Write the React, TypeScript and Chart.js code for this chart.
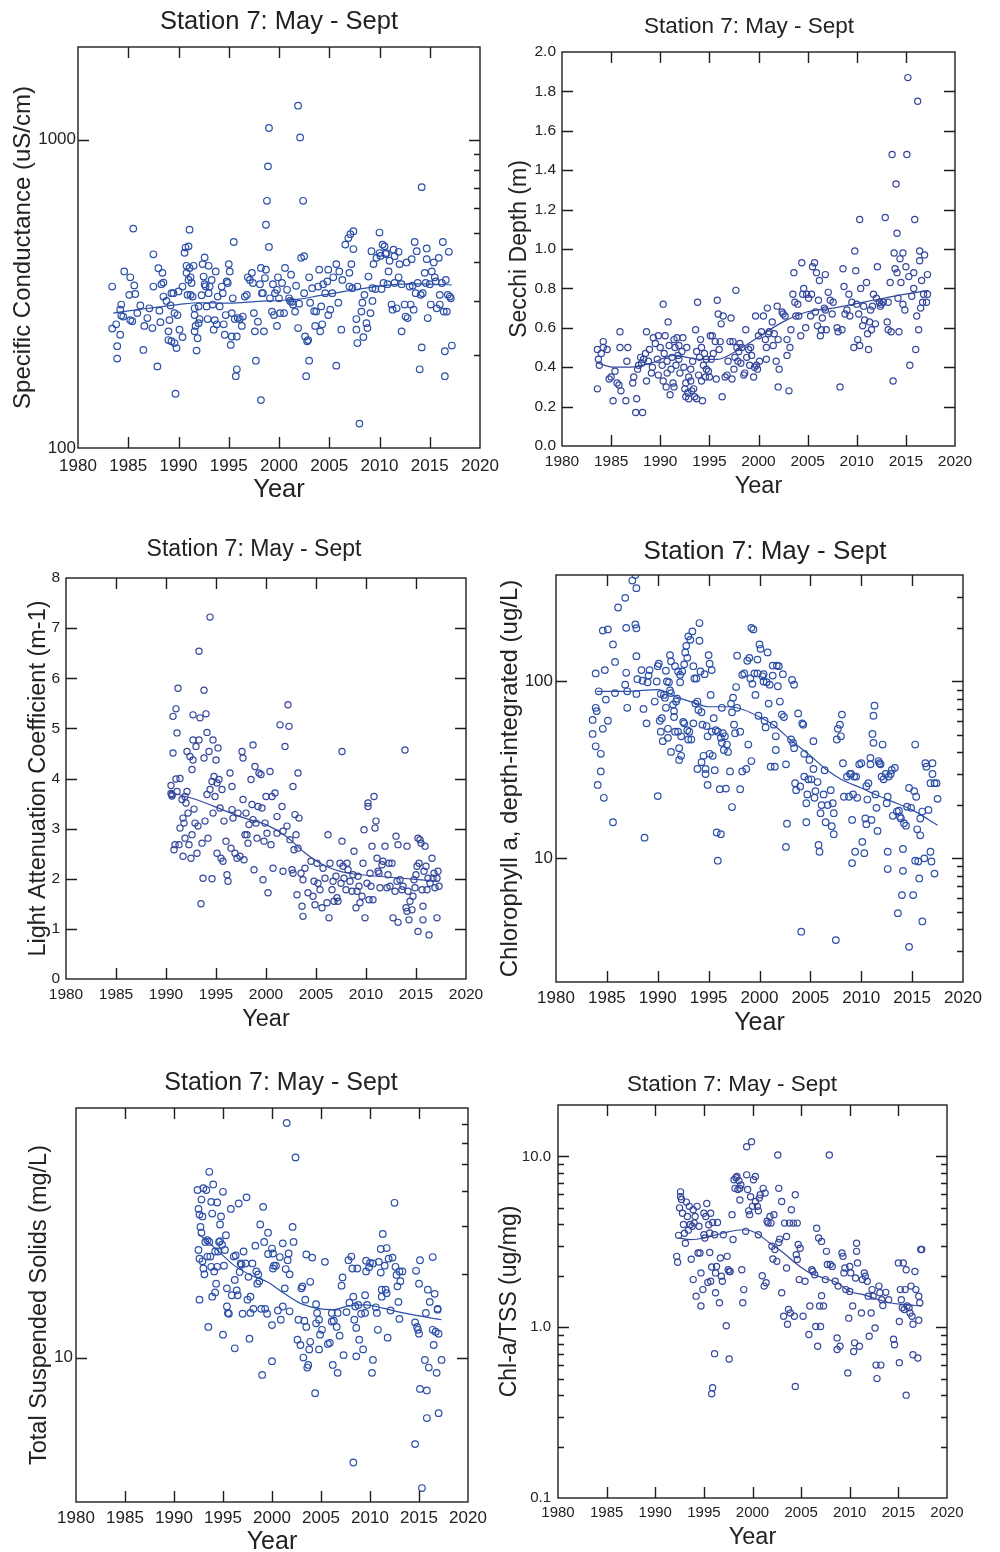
import { useEffect, useRef } from "react";
import { Chart, registerables } from "chart.js";
Chart.register(...registerables);

const FONT = "'Liberation Sans', Arial, Helvetica, sans-serif";
const TITLE_TEXT = "Station 7: May - Sept";
const xTickYears = [1980, 1985, 1990, 1995, 2000, 2005, 2010, 2015, 2020];

// ---------- Panel 1: Specific Conductance ----------
const condPoints: [number, number][] = [
  [1983.4,334],[1983.4,244],[1983.8,252],[1983.9,214],[1983.9,195],[1984.2,281],[1984.3,292],[1984.2,233],[1984.3,269],[1984.6,374],[1984.5,267],[1985.1,314],[1985.2,358],[1985.2,260],[1985.4,258],[1985.6,337],[1985.5,515],[1985.7,316],[1985.9,274],[1986.2,290],[1986.5,208],[1986.6,249],[1986.9,264],[1987.1,284],[1987.4,245],[1987.5,425],[1987.5,334],[1987.9,184],[1988.0,383],[1988.1,279],[1988.2,256],[1988.3,340],[1988.4,370],[1988.5,310],[1988.5,344],[1988.8,300],[1989.0,239],[1989.0,224],[1989.1,260],[1989.2,290],[1989.3,222],[1989.3,318],[1989.5,318],[1989.6,274],[1989.6,219],[1989.7,150],[1989.8,211],[1989.9,270],[1990.1,242],[1990.0,322],[1990.4,334],[1990.4,229],[1990.6,430],[1990.7,447],[1990.8,390],[1991.0,451],[1991.1,511],[1990.8,370],[1991.0,351],[1991.1,384],[1991.2,358],[1991.3,343],[1991.5,390],[1990.9,314],[1991.2,314],[1991.4,310],[1991.6,284],[1991.6,270],[1991.7,249],[1991.6,239],[1991.8,207],[1991.9,227],[1992.0,254],[1992.0,288],[1992.1,262],[1992.3,313],[1992.4,395],[1992.5,360],[1992.6,340],[1992.6,415],[1992.7,335],[1992.8,288],[1992.9,262],[1993.0,390],[1993.0,318],[1993.1,334],[1993.3,351],[1993.4,292],[1993.5,242],[1993.6,260],[1993.7,374],[1993.8,252],[1993.9,310],[1994.1,288],[1994.3,334],[1994.4,318],[1994.5,252],[1994.6,233],[1994.7,270],[1994.8,347],[1994.9,343],[1995.0,395],[1995.1,374],[1995.2,216],[1995.3,230],[1995.3,274],[1995.4,306],[1995.5,466],[1995.6,262],[1995.7,171],[1995.8,230],[1995.8,180],[1995.9,264],[1996.1,262],[1996.3,249],[1996.4,267],[1996.6,310],[1996.8,314],[1996.9,358],[1997.1,351],[1997.3,370],[1997.4,343],[1997.5,274],[1997.6,239],[1997.7,192],[1997.9,257],[1998.1,340],[1998.2,384],[1998.2,143],[1998.3,318],[1998.4,318],[1998.5,239],[1998.6,356],[1998.7,379],[1998.7,530],[1998.8,634],[1998.9,820],[1999.0,449],[1999.0,1092],[1999.1,306],[1999.3,277],[1999.4,340],[1999.5,270],[1999.6,318],[1999.8,249],[1999.8,326],[1999.9,358],[2000.0,306],[2000.1,274],[2000.3,343],[2000.5,274],[2000.6,384],[2000.8,326],[2001.0,306],[2001.1,300],[2001.2,365],[2001.3,298],[2001.4,292],[2001.6,277],[2001.7,336],[2001.9,245],[2001.9,1290],[2002.0,294],[2002.1,1018],[2002.2,414],[2002.4,634],[2002.5,419],[2002.5,318],[2002.6,230],[2002.7,171],[2002.8,222],[2002.9,224],[2003.0,358],[2003.0,192],[2003.1,296],[2003.3,330],[2003.5,278],[2003.6,249],[2003.7,277],[2003.9,334],[2004.0,379],[2004.1,239],[2004.2,288],[2004.3,252],[2004.4,340],[2004.6,318],[2004.8,347],[2004.9,379],[2004.9,270],[2005.1,281],[2005.3,318],[2005.4,358],[2005.7,185],[2005.7,395],[2005.9,296],[2006.0,374],[2006.2,242],[2006.3,351],[2006.6,457],[2006.9,480],[2007.0,370],[2007.0,334],[2007.1,494],[2007.2,395],[2007.3,330],[2007.4,505],[2007.4,442],[2007.7,262],[2007.7,242],[2007.8,219],[2007.8,334],[2008.0,120],[2008.2,277],[2008.3,296],[2008.4,229],[2008.5,314],[2008.7,254],[2008.8,245],[2008.9,360],[2009.1,274],[2009.2,435],[2009.3,300],[2009.3,330],[2009.4,395],[2009.6,328],[2009.7,414],[2010.0,429],[2010.0,500],[2010.1,420],[2010.2,328],[2010.3,457],[2010.4,343],[2010.5,451],[2010.6,426],[2010.7,429],[2010.8,340],[2010.9,374],[2011.0,405],[2011.2,292],[2011.3,281],[2011.4,440],[2011.5,343],[2011.5,419],[2011.7,284],[2011.9,433],[2011.9,358],[2012.0,395],[2012.2,239],[2012.2,340],[2012.5,292],[2012.6,267],[2012.7,400],[2012.8,264],[2013.0,334],[2013.1,292],[2013.2,410],[2013.3,336],[2013.4,281],[2013.5,466],[2013.6,318],[2013.7,435],[2013.8,343],[2014.0,180],[2014.1,314],[2014.2,212],[2014.2,702],[2014.3,318],[2014.5,370],[2014.6,343],[2014.7,444],[2014.7,410],[2014.8,264],[2015.0,340],[2015.1,292],[2015.2,374],[2015.4,400],[2015.5,358],[2015.6,347],[2015.7,284],[2015.9,414],[2016.0,314],[2016.0,292],[2016.2,343],[2016.3,466],[2016.4,277],[2016.5,206],[2016.5,171],[2016.6,351],[2016.7,277],[2016.8,314],[2016.9,433],[2017.0,310],[2017.1,306],[2017.2,215]
];
const condTrendYears = [1983.5, 1987, 1990, 1992, 1995, 1998, 2000, 2002, 2004, 2006, 2008, 2010, 2012, 2014, 2017.2];
const condTrendValues = [274, 284, 292, 296, 295, 299, 301, 304, 312, 320, 328, 335, 340, 341, 338];
const condTickLabels = [100, 1000];

// ---------- Panel 2: Secchi Depth ----------
const secchiPoints: [number, number][] = [
  [1983.6,0.29],[1983.6,0.49],[1983.7,0.44],[1983.8,0.41],[1984.0,0.47],[1984.2,0.53],[1984.2,0.50],[1984.6,0.49],[1984.8,0.34],[1985.0,0.35],[1985.2,0.23],[1985.4,0.38],[1985.6,0.32],[1985.8,0.31],[1985.9,0.58],[1985.9,0.50],[1986.0,0.28],[1986.5,0.23],[1986.6,0.43],[1986.7,0.50],[1987.2,0.32],[1987.3,0.35],[1987.5,0.17],[1987.6,0.24],[1987.7,0.39],[1987.8,0.41],[1988.0,0.45],[1988.1,0.42],[1988.2,0.17],[1988.3,0.44],[1988.5,0.47],[1988.6,0.58],[1988.6,0.33],[1988.8,0.43],[1988.9,0.49],[1989.1,0.37],[1989.2,0.40],[1989.3,0.55],[1989.5,0.52],[1989.7,0.44],[1989.8,0.36],[1989.8,0.56],[1990.0,0.50],[1990.2,0.41],[1990.3,0.72],[1990.3,0.33],[1990.4,0.47],[1990.5,0.56],[1990.6,0.30],[1990.7,0.37],[1990.7,0.43],[1990.8,0.63],[1990.9,0.51],[1991.0,0.26],[1991.1,0.39],[1991.2,0.45],[1991.3,0.32],[1991.4,0.54],[1991.4,0.30],[1991.5,0.50],[1991.6,0.41],[1991.7,0.55],[1991.8,0.46],[1991.9,0.44],[1991.9,0.51],[1992.0,0.37],[1992.2,0.48],[1992.3,0.55],[1992.4,0.40],[1992.5,0.29],[1992.6,0.32],[1992.6,0.25],[1992.7,0.50],[1992.8,0.27],[1992.9,0.35],[1992.9,0.24],[1993.1,0.33],[1993.1,0.39],[1993.2,0.28],[1993.3,0.43],[1993.4,0.29],[1993.5,0.25],[1993.6,0.59],[1993.7,0.48],[1993.7,0.24],[1993.8,0.73],[1993.9,0.36],[1994.0,0.45],[1994.1,0.54],[1994.2,0.33],[1994.2,0.50],[1994.3,0.23],[1994.4,0.41],[1994.5,0.47],[1994.6,0.35],[1994.7,0.44],[1994.7,0.39],[1994.9,0.38],[1995.0,0.35],[1995.1,0.56],[1995.2,0.44],[1995.3,0.56],[1995.4,0.47],[1995.6,0.53],[1995.7,0.34],[1995.8,0.74],[1995.9,0.67],[1996.0,0.49],[1996.1,0.53],[1996.2,0.62],[1996.3,0.25],[1996.4,0.66],[1996.6,0.35],[1996.8,0.36],[1996.9,0.43],[1997.1,0.53],[1997.2,0.65],[1997.3,0.34],[1997.4,0.53],[1997.5,0.39],[1997.6,0.45],[1997.7,0.79],[1997.8,0.50],[1997.9,0.43],[1998.0,0.48],[1998.1,0.52],[1998.2,0.42],[1998.3,0.50],[1998.5,0.36],[1998.6,0.37],[1998.7,0.59],[1998.8,0.45],[1999.0,0.49],[1999.1,0.41],[1999.2,0.50],[1999.3,0.46],[1999.5,0.35],[1999.6,0.40],[1999.7,0.66],[1999.8,0.41],[1999.9,0.39],[2000.0,0.56],[2000.1,0.43],[2000.3,0.58],[2000.5,0.66],[2000.7,0.54],[2000.8,0.44],[2000.8,0.50],[2000.9,0.70],[2001.0,0.57],[2001.1,0.58],[2001.4,0.63],[2001.5,0.51],[2001.6,0.57],[2001.8,0.43],[2001.9,0.71],[2002.0,0.54],[2002.0,0.30],[2002.1,0.39],[2002.4,0.68],[2002.5,0.67],[2002.7,0.66],[2002.9,0.46],[2002.9,0.54],[2003.1,0.28],[2003.2,0.50],[2003.3,0.59],[2003.5,0.77],[2003.6,0.88],[2003.7,0.73],[2003.8,0.66],[2004.0,0.72],[2004.1,0.66],[2004.3,0.56],[2004.4,0.93],[2004.5,0.77],[2004.6,0.80],[2004.8,0.60],[2004.9,0.77],[2005.1,0.75],[2005.3,0.66],[2005.4,0.77],[2005.5,0.91],[2005.7,0.93],[2005.8,0.68],[2005.9,0.88],[2006.0,0.61],[2006.1,0.74],[2006.2,0.84],[2006.3,0.56],[2006.4,0.59],[2006.5,0.65],[2006.7,0.70],[2006.8,0.87],[2006.8,0.69],[2006.9,0.59],[2007.1,0.78],[2007.3,0.74],[2007.5,0.67],[2007.6,0.73],[2008.0,0.60],[2008.1,0.58],[2008.3,0.30],[2008.5,0.59],[2008.6,0.90],[2008.7,0.81],[2008.8,0.67],[2009.0,0.69],[2009.2,0.77],[2009.3,0.66],[2009.5,0.73],[2009.7,0.50],[2009.8,0.99],[2009.9,0.89],[2010.0,0.72],[2010.1,0.54],[2010.2,0.67],[2010.3,1.15],[2010.3,0.51],[2010.4,0.80],[2010.6,0.61],[2010.7,0.71],[2010.8,0.64],[2011.0,0.83],[2011.1,0.57],[2011.2,0.49],[2011.3,0.63],[2011.4,0.69],[2011.5,0.59],[2011.6,0.71],[2011.7,0.77],[2011.9,0.62],[2012.0,0.75],[2012.1,0.91],[2012.3,0.73],[2012.4,0.71],[2012.5,0.72],[2012.7,0.73],[2012.9,1.16],[2013.1,0.63],[2013.2,0.59],[2013.2,0.73],[2013.4,0.83],[2013.5,0.58],[2013.6,1.48],[2013.7,0.33],[2013.8,0.98],[2013.9,0.90],[2014.0,1.33],[2014.1,1.08],[2014.1,0.88],[2014.2,0.75],[2014.3,0.58],[2014.4,0.95],[2014.5,0.83],[2014.7,0.98],[2014.7,0.72],[2014.9,0.69],[2015.0,0.91],[2015.1,1.48],[2015.2,1.87],[2015.3,0.86],[2015.4,0.41],[2015.6,0.76],[2015.8,0.88],[2015.8,0.80],[2015.9,1.15],[2016.0,0.49],[2016.1,0.66],[2016.2,1.75],[2016.3,0.59],[2016.4,0.99],[2016.4,0.94],[2016.5,0.70],[2016.6,0.84],[2016.7,0.73],[2016.8,0.77],[2016.9,0.97],[2017.1,0.73],[2017.2,0.77],[2017.2,0.87]
];
const secchiTrendYears = [1983.6, 1985.3, 1987, 1989, 1991.4, 1994, 1995.8, 1998, 2000.2, 2002.5, 2004.9, 2007.6, 2009.7, 2012.7, 2017.3];
const secchiTrendValues = [0.42, 0.40, 0.40, 0.42, 0.46, 0.44, 0.44, 0.49, 0.56, 0.63, 0.68, 0.70, 0.72, 0.75, 0.79];
const secchiTickLabels = [0, 0.2, 0.4, 0.6, 0.8, 1.0, 1.2, 1.4, 1.6, 1.8, 2.0];

// ---------- Panel 3: Light Attenuation ----------
const kdPoints: [number, number][] = [
  [1990.5,3.86],[1990.5,3.7],[1990.6,3.65],[1990.6,3.68],[1990.7,4.51],[1990.7,5.24],[1990.8,2.58],[1990.9,2.68],[1991.0,5.39],[1991.0,3.99],[1991.1,4.91],[1991.1,3.74],[1991.2,5.80],[1991.3,2.68],[1991.4,4.0],[1991.4,3.01],[1991.6,3.58],[1991.7,3.21],[1991.7,2.45],[1991.8,3.11],[1991.9,3.64],[1991.9,2.81],[1992.0,3.51],[1992.1,4.54],[1992.1,3.74],[1992.2,3.31],[1992.3,2.68],[1992.4,4.44],[1992.5,2.41],[1992.6,4.18],[1992.6,2.88],[1992.7,4.37],[1992.7,4.77],[1992.7,5.27],[1992.8,3.39],[1992.9,3.11],[1993.0,4.64],[1993.1,2.51],[1993.2,3.05],[1993.3,4.77],[1993.3,6.54],[1993.4,5.21],[1993.5,1.50],[1993.6,2.71],[1993.7,2.01],[1993.8,4.41],[1993.8,5.76],[1993.9,3.15],[1994.0,5.29],[1994.1,3.68],[1994.1,4.92],[1994.2,2.81],[1994.3,4.54],[1994.4,7.22],[1994.4,3.78],[1994.6,3.94],[1994.6,2.0],[1994.7,4.77],[1994.7,3.31],[1994.8,4.04],[1994.9,3.64],[1995.0,4.37],[1995.1,2.51],[1995.1,3.91],[1995.2,4.61],[1995.3,3.98],[1995.4,3.41],[1995.5,2.41],[1995.6,3.78],[1995.7,2.35],[1995.8,3.15],[1996.0,2.75],[1996.1,2.08],[1996.2,1.95],[1996.4,4.11],[1996.5,2.61],[1996.6,3.38],[1996.6,3.84],[1996.7,3.21],[1996.9,2.51],[1997.1,2.41],[1997.2,3.31],[1997.4,2.45],[1997.6,4.54],[1997.7,4.41],[1997.7,3.58],[1997.8,2.38],[1997.9,2.88],[1998.0,3.31],[1998.1,2.88],[1998.2,2.71],[1998.3,3.08],[1998.5,3.98],[1998.6,3.48],[1998.7,4.67],[1998.7,3.18],[1998.8,2.18],[1998.9,4.24],[1999.0,3.11],[1999.1,2.81],[1999.2,3.44],[1999.3,4.11],[1999.5,4.08],[1999.6,3.41],[1999.7,1.98],[1999.8,2.75],[1999.9,3.11],[2000.0,3.64],[2000.1,2.91],[2000.2,1.72],[2000.4,4.14],[2000.5,2.68],[2000.6,3.64],[2000.7,2.21],[2000.9,3.71],[2001.1,3.24],[2001.1,2.91],[2001.4,5.07],[2001.6,3.44],[2001.7,2.15],[2001.7,2.95],[2001.9,4.64],[2002.1,3.05],[2002.2,5.47],[2002.3,5.04],[2002.4,2.78],[2002.6,2.18],[2002.7,2.11],[2002.7,3.84],[2002.8,2.58],[2002.9,3.28],[2003.0,2.88],[2003.1,1.68],[2003.2,4.11],[2003.2,2.61],[2003.3,3.21],[2003.5,2.11],[2003.6,1.45],[2003.7,1.98],[2003.7,1.25],[2003.9,2.21],[2004.2,1.72],[2004.5,2.35],[2004.7,1.65],[2004.8,1.95],[2004.9,1.48],[2005.1,2.31],[2005.2,1.91],[2005.4,1.78],[2005.6,1.42],[2005.7,2.21],[2005.9,2.01],[2006.1,1.52],[2006.2,2.88],[2006.3,1.22],[2006.4,2.31],[2006.6,1.78],[2006.7,1.95],[2006.8,1.55],[2007.0,2.05],[2007.1,1.62],[2007.2,1.55],[2007.4,2.31],[2007.5,1.91],[2007.6,2.75],[2007.6,4.54],[2007.7,2.25],[2007.8,2.01],[2008.0,1.78],[2008.1,2.31],[2008.2,2.18],[2008.4,1.95],[2008.6,1.75],[2008.7,2.08],[2008.8,2.55],[2009.0,1.42],[2009.1,1.75],[2009.2,2.05],[2009.3,1.85],[2009.4,1.52],[2009.6,1.65],[2009.7,2.31],[2009.8,2.98],[2009.9,1.22],[2010.1,1.91],[2010.2,3.44],[2010.2,3.51],[2010.3,1.58],[2010.4,2.11],[2010.5,1.85],[2010.6,2.65],[2010.7,1.58],[2010.8,3.64],[2010.9,3.01],[2011.0,3.15],[2011.1,2.41],[2011.2,2.15],[2011.3,2.11],[2011.4,1.82],[2011.6,2.28],[2011.7,2.35],[2011.9,2.65],[2012.1,1.82],[2012.2,2.08],[2012.3,2.31],[2012.4,1.85],[2012.6,2.31],[2012.7,1.22],[2012.9,1.75],[2013.0,2.85],[2013.1,1.95],[2013.2,2.68],[2013.2,1.13],[2013.4,1.98],[2013.6,1.78],[2013.7,1.85],[2013.9,4.57],[2014.0,1.42],[2014.1,2.65],[2014.1,1.35],[2014.2,1.75],[2014.3,1.18],[2014.4,1.55],[2014.6,1.38],[2014.7,1.65],[2014.8,1.98],[2014.9,1.82],[2015.0,2.08],[2015.1,2.25],[2015.2,0.95],[2015.2,2.81],[2015.3,2.31],[2015.4,2.78],[2015.5,2.71],[2015.6,1.78],[2015.7,1.18],[2015.7,1.45],[2015.8,2.15],[2015.9,2.65],[2016.0,2.25],[2016.1,1.78],[2016.2,2.01],[2016.3,0.88],[2016.4,1.91],[2016.6,2.41],[2016.7,2.01],[2016.8,2.11],[2016.9,1.82],[2017.1,1.22],[2017.1,2.01],[2017.2,2.15],[2017.3,1.85]
];
const kdTrendYears = [1990.5, 1993, 1996, 1998, 2000, 2002, 2004, 2006, 2008, 2010, 2013, 2017.3];
const kdTrendValues = [3.72, 3.58, 3.35, 3.2, 3.08, 2.85, 2.5, 2.25, 2.12, 2.07, 2.02, 1.95];
const kdTickLabels = [0, 1, 2, 3, 4, 5, 6, 7, 8];

// ---------- Panel 4: Chlorophyll a ----------
const chlPoints: [number, number][] = [
  [1983.6,50.5],[1983.6,60.6],[1983.9,71],[1984.0,68],[1983.9,111],[1983.9,43],[1984.1,26],[1984.2,88],[1984.4,39],[1984.4,31],[1984.6,194],[1984.6,54],[1984.7,22],[1984.8,116],[1984.9,79],[1985.1,60],[1985.1,197],[1985.6,16],[1985.6,162],[1985.8,129],[1985.8,86],[1986.1,262],[1986.8,96],[1986.8,297],[1986.9,112],[1986.9,201],[1987.0,88],[1987.0,71],[1987.5,372],[1987.8,400],[1987.8,210],[1987.9,200],[1987.9,337],[1987.9,139],[1987.9,85],[1988.0,103],[1988.4,116],[1988.5,101],[1988.6,70],[1988.7,13.1],[1988.9,58],[1989.0,99],[1989.1,108],[1989.2,116],[1989.7,77],[1989.9,100],[1990.0,22.5],[1990.0,122],[1990.1,126],[1990.2,60],[1990.3,85],[1990.3,52],[1990.4,62],[1990.5,46],[1990.6,84],[1990.7,81],[1990.8,115],[1990.8,71],[1990.9,100],[1991.0,48],[1991.0,54],[1991.1,99],[1991.2,89],[1991.2,141],[1991.3,40],[1991.3,130],[1991.3,86],[1991.5,74],[1991.6,63],[1991.6,68],[1991.7,122],[1991.7,52],[1991.8,77],[1991.9,80],[1992.0,52],[1992.0,114],[1992.1,42],[1992.1,36],[1992.2,99],[1992.2,109],[1992.3,38],[1992.3,49],[1992.4,114],[1992.5,59],[1992.6,125],[1992.6,58],[1992.7,146],[1992.8,159],[1992.9,53],[1992.9,136],[1993.0,47],[1993.0,180],[1993.1,52],[1993.2,172],[1993.3,47],[1993.4,192],[1993.5,58],[1993.5,122],[1993.6,104],[1993.7,75],[1993.8,104],[1993.9,77],[1993.9,32],[1994.0,69],[1994.1,214],[1994.1,170],[1994.2,114],[1994.3,67],[1994.3,35],[1994.4,57],[1994.5,38],[1994.6,110],[1994.7,32],[1994.7,30],[1994.8,56],[1994.9,49],[1994.9,26],[1995.0,141],[1995.1,39],[1995.1,126],[1995.2,84],[1995.3,52],[1995.3,116],[1995.4,38],[1995.5,62],[1995.6,31.5],[1995.7,53],[1995.8,14],[1995.9,52],[1995.9,9.7],[1996.1,24.6],[1996.2,48],[1996.2,13.7],[1996.3,71],[1996.3,45],[1996.4,51],[1996.5,41],[1996.6,49],[1996.7,24.8],[1996.8,44],[1996.9,40],[1997.1,31],[1997.2,75],[1997.3,67],[1997.3,19.5],[1997.4,81],[1997.5,57],[1997.6,51],[1997.7,93],[1997.8,140],[1997.8,71],[1998.1,52],[1998.1,24.6],[1998.3,31],[1998.3,109],[1998.5,111],[1998.7,32],[1998.8,131],[1998.9,44],[1999.0,136],[1999.1,104],[1999.2,35.5],[1999.2,201],[1999.3,97],[1999.4,197],[1999.5,111],[1999.6,84],[1999.8,133],[1999.8,111],[1999.9,64],[2000.0,162],[2000.1,153],[2000.3,107],[2000.4,110],[2000.4,100],[2000.5,60],[2000.6,55],[2000.7,99],[2000.8,146],[2000.9,75],[2001.0,96],[2001.1,33],[2001.3,123],[2001.3,108],[2001.4,57],[2001.5,33],[2001.6,49],[2001.6,41],[2001.7,123],[2001.8,94],[2001.9,122],[2002.0,77],[2002.2,65],[2002.3,110],[2002.4,63],[2002.6,34],[2002.6,11.6],[2002.7,15.7],[2003.1,47],[2003.2,102],[2003.3,45],[2003.4,96],[2003.4,42],[2003.5,26.6],[2003.6,24.3],[2003.8,66],[2004.0,25.5],[2004.1,3.85],[2004.2,58],[2004.3,57],[2004.4,39],[2004.4,29],[2004.6,16],[2004.6,20.5],[2004.7,23],[2004.8,28],[2004.9,36],[2005.1,28],[2005.3,46],[2005.3,32],[2005.4,22],[2005.5,24],[2005.7,27],[2005.8,11.9],[2005.9,10.9],[2006.0,18],[2006.1,20],[2006.3,23],[2006.4,31.5],[2006.5,16],[2006.7,20],[2007.0,24.3],[2007.1,15.2],[2007.2,20.5],[2007.3,18],[2007.3,13.7],[2007.5,3.45],[2007.6,47],[2007.7,54],[2007.9,57],[2008.0,49],[2008.1,65],[2008.2,34.5],[2008.3,22.3],[2008.6,29],[2008.8,22.3],[2008.9,30],[2009.0,30],[2009.1,16.5],[2009.1,9.4],[2009.2,23],[2009.3,29],[2009.4,10.9],[2009.5,29],[2009.6,22],[2009.8,34],[2010.0,34.5],[2010.1,12.4],[2010.3,10.7],[2010.4,16.8],[2010.5,15.6],[2010.5,25.6],[2010.6,21.5],[2010.7,26.6],[2010.9,34],[2010.9,37],[2011.0,16.5],[2011.1,50.5],[2011.2,45],[2011.2,64],[2011.3,73],[2011.4,23],[2011.5,19.3],[2011.6,14.3],[2011.7,35.5],[2011.8,34.5],[2011.9,34],[2012.0,29],[2012.1,44],[2012.2,28],[2012.4,30],[2012.5,20.5],[2012.6,10.9],[2012.6,8.7],[2012.6,22.3],[2012.7,29],[2012.9,30],[2013.0,31.6],[2013.1,17.4],[2013.3,32.5],[2013.5,18.4],[2013.6,4.9],[2013.7,18.6],[2013.8,17.2],[2013.9,16.8],[2014.0,6.2],[2014.1,11.3],[2014.1,8.5],[2014.2,15.8],[2014.4,15.3],[2014.5,19.6],[2014.7,25],[2014.7,3.16],[2014.9,19.3],[2015.1,6.2],[2015.2,24],[2015.3,9.7],[2015.3,44],[2015.4,22.3],[2015.5,14.6],[2015.6,9.6],[2015.7,7.7],[2015.8,16.8],[2015.8,13.5],[2016.0,18.4],[2016.0,4.4],[2016.2,10],[2016.3,34.5],[2016.4,33],[2016.6,18.8],[2016.8,10.9],[2016.8,26.6],[2016.9,9.6],[2017.0,30],[2017.0,34.5],[2017.2,26.6],[2017.2,8.2],[2017.4,26.6],[2017.5,21.7]
];
const chlTrendYears = [1984, 1987, 1990, 1992, 1993.5, 1995, 1997, 1998.5, 2000, 2001.5, 2003, 2005, 2006.5, 2008, 2010, 2011.5, 2013, 2015, 2017.5];
const chlTrendValues = [88, 88, 90, 81, 76, 72, 72, 69, 63, 56, 47, 38, 32, 28, 25, 22.8, 21, 18.8, 15.4];
const chlTickLabels = [10, 100];

// ---------- Panel 5: Total Suspended Solids ----------
const tssPoints: [number, number][] = [
  [1992.4,40.4],[1992.5,34.5],[1992.5,24.5],[1992.6,16.2],[1992.6,22.8],[1992.6,32.9],[1992.7,29.7],[1992.8,37.3],[1992.8,28.3],[1992.9,22.3],[1992.9,32.4],[1993.0,21],[1993.0,41],[1993.1,20],[1993.2,26.2],[1993.3,40.4],[1993.4,23.2],[1993.4,26.6],[1993.5,12.9],[1993.6,26.2],[1993.6,47],[1993.7,23.2],[1993.8,21.3],[1993.8,36.6],[1993.9,16.6],[1993.9,33.2],[1994.0,42.3],[1994.1,20.5],[1994.2,17.2],[1994.2,24.2],[1994.3,18.5],[1994.4,36.4],[1994.4,21.3],[1994.5,24.2],[1994.6,26.2],[1994.7,30.3],[1994.7,26.4],[1994.8,32.4],[1994.9,25.6],[1995.0,39.8],[1995.0,12.1],[1995.1,21.5],[1995.2,24.5],[1995.3,27.7],[1995.4,17.8],[1995.4,15.3],[1995.5,14.5],[1995.6,14.4],[1995.8,34.5],[1995.9,16.8],[1996.1,23.2],[1996.2,10.8],[1996.2,19.1],[1996.3,23.4],[1996.4,17.5],[1996.5,16.8],[1996.6,36.1],[1996.7,20.4],[1996.8,21.9],[1996.9,21.7],[1997.0,14.4],[1997.1,24.2],[1997.3,21.9],[1997.4,38],[1997.5,16.2],[1997.6,19.6],[1997.7,11.7],[1997.8,16.6],[1997.8,14.5],[1998.0,21.9],[1998.1,15],[1998.3,25.4],[1998.4,20.5],[1998.5,18.5],[1998.6,20],[1998.7,18.9],[1998.8,30.3],[1998.9,15],[1999.0,8.65],[1999.1,35.1],[1999.2,26.2],[1999.3,15],[1999.5,14.4],[1999.6,23.7],[1999.6,28.3],[2000.0,9.7],[2000.0,13.1],[2000.0,24.8],[2000.1,23.8],[2000.1,21],[2000.2,21.5],[2000.4,21.5],[2000.6,14.8],[2000.8,23.1],[2000.9,13.7],[2001.1,25.9],[2001.1,15.3],[2001.3,17.8],[2001.4,20.9],[2001.5,70.6],[2001.6,22.5],[2001.7,23.8],[2001.8,20],[2001.8,14.7],[2002.1,29.7],[2002.2,26.2],[2002.4,53],[2002.6,11.6],[2002.7,13.7],[2002.9,11.1],[2003.0,17.8],[2003.1,18.1],[2003.2,10],[2003.3,13.6],[2003.4,16.2],[2003.5,23.6],[2003.5,12.9],[2003.6,9.2],[2003.7,9.4],[2003.8,10.7],[2003.9,18.8],[2003.9,11.4],[2004.1,23],[2004.4,7.43],[2004.5,13.3],[2004.5,15.6],[2004.6,14.5],[2004.8,13.7],[2004.8,10.7],[2004.9,12.1],[2005.1,12.6],[2005.4,22.2],[2005.7,11.2],[2005.9,11.3],[2006.1,14.5],[2006.1,13.5],[2006.2,9.4],[2006.3,13.6],[2006.6,12.9],[2006.7,8.8],[2006.7,14.5],[2006.9,12],[2007.1,18.2],[2007.2,19.5],[2007.3,10.2],[2007.6,14.6],[2007.8,22.5],[2007.9,15.8],[2008.1,23.2],[2008.2,21],[2008.3,16.6],[2008.3,4.17],[2008.4,13.7],[2008.5,15.3],[2008.6,10.1],[2008.6,12.8],[2008.7,21],[2008.8,15.5],[2008.9,11.6],[2009.1,14.4],[2009.3,10.7],[2009.5,14.5],[2009.5,16.8],[2009.6,22.4],[2009.6,20.5],[2009.7,15.5],[2009.9,21.2],[2010.0,22],[2010.2,8.8],[2010.3,21.9],[2010.3,9.8],[2010.6,15.2],[2010.7,14.5],[2010.8,12.6],[2010.9,22.2],[2011.1,24.7],[2011.1,20.3],[2011.2,17.6],[2011.2,16.6],[2011.3,28],[2011.5,21.5],[2011.6,17.6],[2011.7,24.9],[2011.7,17.1],[2011.8,11.8],[2011.9,22.8],[2012.1,14.8],[2012.3,23],[2012.5,36.3],[2012.6,21.3],[2012.7,19.9],[2012.8,18.1],[2012.9,15.9],[2013.0,20.5],[2013.0,13.8],[2013.1,18.9],[2013.3,20.5],[2014.6,13.4],[2014.6,4.86],[2014.7,20.6],[2014.8,12.9],[2014.9,12.6],[2015.0,12.2],[2015.0,18.5],[2015.1,22.5],[2015.1,7.7],[2015.3,3.37],[2015.6,9.8],[2015.7,14.5],[2015.8,7.6],[2015.8,6.04],[2015.9,17.6],[2016.0,9.2],[2016.1,15.9],[2016.4,23.1],[2016.4,12.6],[2016.5,11.1],[2016.6,17],[2016.7,12.4],[2016.8,8.8],[2016.9,15],[2016.9,14.9],[2017.0,12.2],[2017.0,6.29],[2017.3,9.8]
];
const tssTrendYears = [1992.5, 1994.4, 1996.1, 1997.8, 1999.5, 2001.2, 2002.9, 2004.5, 2006.2, 2007.9, 2009.6, 2011.3, 2013, 2014.7, 2017.3];
const tssTrendValues = [28, 24.5, 21.6, 19.9, 18.8, 17.1, 15.7, 15.1, 14.9, 15.4, 15.5, 15.1, 14.6, 14.2, 13.7];
const tssTickLabels = [10];

// ---------- Panel 6: Chl-a / TSS ----------
const ratioPoints: [number, number][] = [
  [1992.2,2.6],[1992.3,2.4],[1992.4,3.45],[1992.5,5.0],[1992.6,5.8],[1992.6,6.2],[1992.7,5.6],[1992.8,4.65],[1992.9,4.0],[1993.0,3.55],[1993.1,3.1],[1993.2,5.4],[1993.3,4.45],[1993.4,3.7],[1993.5,5.1],[1993.6,4.0],[1993.7,2.5],[1993.8,3.9],[1993.9,4.87],[1993.9,1.9],[1994.0,4.07],[1994.1,4.45],[1994.2,1.52],[1994.3,5.1],[1994.4,2.72],[1994.5,3.9],[1994.6,2.72],[1994.7,1.33],[1994.7,2.08],[1994.9,1.66],[1995.0,4.65],[1995.0,3.48],[1995.1,3.33],[1995.2,4.45],[1995.3,5.3],[1995.4,1.83],[1995.5,3.98],[1995.6,3.56],[1995.6,2.74],[1995.7,1.86],[1995.7,4.65],[1995.8,2.25],[1995.9,4.1],[1996.1,3.48],[1996.1,0.70],[1996.2,1.59],[1995.9,0.442],[1995.8,0.408],[1996.2,2.08],[1996.3,2.27],[1996.4,4.1],[1996.6,1.39],[1996.7,2.54],[1996.8,1.99],[1996.9,1.86],[1997.0,3.48],[1997.3,1.02],[1997.4,2.6],[1997.5,2.17],[1997.6,0.652],[1997.6,2.12],[1997.7,2.12],[1997.9,4.56],[1998.0,3.26],[1998.1,7.3],[1998.2,6.5],[1998.3,7.5],[1998.4,7.64],[1998.5,6.4],[1998.6,7.2],[1998.7,6.5],[1998.7,5.56],[1998.8,6.8],[1998.9,2.17],[1999.0,1.39],[1999.1,1.66],[1999.3,3.64],[1999.4,7.8],[1999.4,11.4],[1999.5,6.4],[1999.6,4.8],[1999.7,4.56],[1999.8,5.8],[1999.9,12.2],[2000.0,5.1],[2000.1,7.3],[2000.3,7.64],[2000.3,5.45],[2000.5,5.1],[2000.6,4.8],[2000.6,3.48],[2000.7,5.7],[2000.8,5.97],[2001.0,2.0],[2001.1,6.5],[2001.2,1.74],[2001.3,6.1],[2001.4,1.82],[2001.5,4.17],[2001.6,4.07],[2001.8,4.45],[2001.9,4.07],[2002.0,2.98],[2002.1,2.51],[2002.2,4.56],[2002.3,2.85],[2002.5,2.43],[2002.6,10.2],[2002.7,6.5],[2002.7,3.13],[2002.8,3.28],[2003.0,1.59],[2003.0,5.45],[2003.2,1.16],[2003.3,4.07],[2003.5,3.4],[2003.5,2.22],[2003.6,1.04],[2003.7,1.27],[2003.8,4.07],[2003.9,1.21],[2004.0,4.87],[2004.2,4.07],[2004.3,1.16],[2004.4,5.97],[2004.4,0.45],[2004.5,2.66],[2004.6,4.07],[2004.6,2.49],[2004.7,3.05],[2004.8,1.9],[2004.9,2.9],[2005.2,1.16],[2005.4,1.86],[2005.8,0.906],[2005.9,1.33],[2006.1,2.17],[2006.2,2.12],[2006.4,2.03],[2006.5,1.01],[2006.6,3.8],[2006.7,0.774],[2006.8,3.33],[2006.9,1.33],[2007.0,1.01],[2007.1,3.18],[2007.1,1.53],[2007.3,1.33],[2007.5,1.9],[2007.6,2.78],[2007.7,2.33],[2007.9,10.2],[2008.0,2.33],[2008.2,2.27],[2008.5,1.86],[2008.7,0.74],[2008.7,0.866],[2008.8,1.74],[2009.0,0.774],[2009.2,2.72],[2009.3,2.6],[2009.4,2.08],[2009.5,2.22],[2009.6,1.66],[2009.8,0.54],[2009.9,1.13],[2010.0,2.27],[2010.0,1.62],[2010.1,2.08],[2010.3,1.33],[2010.4,0.72],[2010.5,0.81],[2010.6,1.94],[2010.7,3.1],[2010.7,2.78],[2010.8,2.38],[2011.0,0.774],[2011.2,1.21],[2011.3,1.9],[2011.5,2.08],[2011.6,1.99],[2011.8,1.86],[2011.9,1.52],[2012.0,0.886],[2012.2,1.21],[2012.3,1.66],[2012.4,1.52],[2012.6,0.99],[2012.7,0.6],[2012.8,0.5],[2013.0,1.74],[2013.1,1.59],[2013.2,0.6],[2013.3,1.45],[2013.4,1.34],[2013.7,1.6],[2014.0,1.45],[2014.5,0.85],[2014.6,0.79],[2015.0,2.38],[2015.1,0.62],[2015.1,1.08],[2015.2,1.66],[2015.3,1.45],[2015.4,1.3],[2015.5,2.38],[2015.6,1.27],[2015.7,1.66],[2015.8,2.17],[2015.8,0.4],[2015.9,1.33],[2016.1,1.3],[2016.2,1.21],[2016.3,1.74],[2016.4,1.16],[2016.5,1.04],[2016.5,0.69],[2016.7,2.12],[2016.8,1.66],[2017.0,0.66],[2017.1,1.52],[2017.1,1.1],[2017.2,1.39],[2017.3,2.85],[2017.4,2.85]
];
const ratioTrendYears = [1992.4, 1993.6, 1995, 1997, 1999.1, 2000.4, 2001.8, 2003.2, 2004.6, 2005.9, 2007.3, 2008.7, 2010, 2011.4, 2012.8, 2014.1, 2015.5, 2017.4];
const ratioTrendValues = [3.33, 3.26, 3.33, 3.56, 3.72, 3.56, 3.1, 2.72, 2.33, 2.08, 1.94, 1.82, 1.62, 1.55, 1.46, 1.39, 1.36, 1.33];
const ratioTickLabels = [0.1, 1, 10];

type Spec = {
  box: { x: number; y: number; w: number; h: number };
  plot: { l: number; t: number; r: number; b: number };
  title: { x: number; y: number; size: number };
  yTitle: { text: string; x: number; size: number };
  xTitle: { y: number; size: number };
  tickSize: number;
  xTickPad: number;
  yTickPad: number;
  yType: "linear" | "logarithmic";
  yMin: number;
  yMax: number;
  yLabels: number[];
  yFormat: (v: number) => string;
  yMajor: number[];
  yMinor: number[];
  minorLeft: boolean;
  points: [number, number][];
  trendYears: number[];
  trendValues: number[];
  color: string;
  radius: number;
};

const BRIGHT = "#2c4fa7";
const NAVY = "#34479c";

const specs: Spec[] = [
  {
    box: { x: 0, y: 0, w: 500, h: 510 },
    plot: { l: 78, t: 47, r: 480, b: 448 },
    title: { x: 279, y: 22, size: 25.5 },
    yTitle: { text: "Specific Conductance (uS/cm)", x: 23, size: 24 },
    xTitle: { y: 490, size: 25.5 },
    tickSize: 17, xTickPad: 8, yTickPad: 2,
    yType: "logarithmic", yMin: 100, yMax: 2000,
    yLabels: condTickLabels, yFormat: (v) => String(v),
    yMajor: [1000], yMinor: [200, 300, 400, 500, 600, 700, 800, 900], minorLeft: false,
    points: condPoints, trendYears: condTrendYears, trendValues: condTrendValues, color: BRIGHT, radius: 3.3,
  },
  {
    box: { x: 500, y: 0, w: 500, h: 510 },
    plot: { l: 562, t: 52, r: 955, b: 446 },
    title: { x: 749, y: 27, size: 22.5 },
    yTitle: { text: "Secchi Depth (m)", x: 520, size: 23 },
    xTitle: { y: 487, size: 23.5 },
    tickSize: 15.5, xTickPad: 6, yTickPad: 6,
    yType: "linear", yMin: 0, yMax: 2,
    yLabels: secchiTickLabels, yFormat: (v) => v.toFixed(1),
    yMajor: [0.2, 0.4, 0.6, 0.8, 1.0, 1.2, 1.4, 1.6, 1.8], yMinor: [], minorLeft: false,
    points: secchiPoints, trendYears: secchiTrendYears, trendValues: secchiTrendValues, color: NAVY, radius: 3.1,
  },
  {
    box: { x: 0, y: 525, w: 500, h: 520 },
    plot: { l: 66, t: 578, r: 466, b: 979 },
    title: { x: 254, y: 550, size: 23 },
    yTitle: { text: "Light Attenuation Coefficient (m-1)", x: 39, size: 23.5 },
    xTitle: { y: 1020, size: 23.5 },
    tickSize: 15.5, xTickPad: 6.5, yTickPad: 6,
    yType: "linear", yMin: 0, yMax: 8,
    yLabels: kdTickLabels, yFormat: (v) => String(v),
    yMajor: [1, 2, 3, 4, 5, 6, 7], yMinor: [], minorLeft: false,
    points: kdPoints, trendYears: kdTrendYears, trendValues: kdTrendValues, color: NAVY, radius: 3.1,
  },
  {
    box: { x: 490, y: 525, w: 510, h: 520 },
    plot: { l: 556, t: 575, r: 963, b: 982 },
    title: { x: 765, y: 552, size: 26 },
    yTitle: { text: "Chlorophyll a, depth-integrated (ug/L)", x: 510, size: 24 },
    xTitle: { y: 1023, size: 25 },
    tickSize: 17, xTickPad: 6.5, yTickPad: 3,
    yType: "logarithmic", yMin: 2, yMax: 400,
    yLabels: chlTickLabels, yFormat: (v) => String(v),
    yMajor: [10, 100], yMinor: [3, 4, 5, 6, 7, 8, 9, 20, 30, 40, 50, 60, 70, 80, 90, 200, 300], minorLeft: false,
    points: chlPoints, trendYears: chlTrendYears, trendValues: chlTrendValues, color: BRIGHT, radius: 3.3,
  },
  {
    box: { x: 0, y: 1055, w: 500, h: 497 },
    plot: { l: 76, t: 1108, r: 468, b: 1502 },
    title: { x: 281, y: 1083, size: 25 },
    yTitle: { text: "Total Suspended Solids (mg/L)", x: 40, size: 23.5 },
    xTitle: { y: 1542, size: 25 },
    tickSize: 17, xTickPad: 6, yTickPad: 3,
    yType: "logarithmic", yMin: 3, yMax: 80,
    yLabels: tssTickLabels, yFormat: (v) => String(v),
    yMajor: [10], yMinor: [20, 30, 40, 50, 60, 70], minorLeft: false,
    points: tssPoints, trendYears: tssTrendYears, trendValues: tssTrendValues, color: BRIGHT, radius: 3.3,
  },
  {
    box: { x: 490, y: 1055, w: 510, h: 497 },
    plot: { l: 558, t: 1105, r: 947, b: 1498 },
    title: { x: 732, y: 1085, size: 22.5 },
    yTitle: { text: "Chl-a/TSS (ug/mg)", x: 510, size: 23 },
    xTitle: { y: 1538, size: 23.5 },
    tickSize: 15, xTickPad: 6, yTickPad: 7,
    yType: "logarithmic", yMin: 0.1, yMax: 20,
    yLabels: ratioTickLabels, yFormat: (v) => v.toFixed(1),
    yMajor: [1, 10], yMinor: [0.2, 0.3, 0.4, 0.5, 0.6, 0.7, 0.8, 0.9, 2, 3, 4, 5, 6, 7, 8, 9], minorLeft: true,
    points: ratioPoints, trendYears: ratioTrendYears, trendValues: ratioTrendValues, color: NAVY, radius: 3.1,
  },
];

function framePlugin(s: Spec, idx: number) {
  return {
    id: "frame" + idx,
    afterDraw(chart: any) {
      const { ctx, chartArea: a, scales } = chart;
      const X = scales.x;
      const Y = scales.y;
      ctx.save();
      ctx.strokeStyle = "#1e1e1e";
      ctx.lineWidth = 1.4;
      ctx.strokeRect(a.left, a.top, a.right - a.left, a.bottom - a.top);
      ctx.beginPath();
      for (const yr of xTickYears) {
        if (yr === 1980 || yr === 2020) continue;
        const px = Math.round(X.getPixelForValue(yr)) + 0.5;
        ctx.moveTo(px, a.bottom);
        ctx.lineTo(px, a.bottom - 11);
        ctx.moveTo(px, a.top);
        ctx.lineTo(px, a.top + 11);
      }
      for (const v of s.yMajor) {
        const py = Math.round(Y.getPixelForValue(v)) + 0.5;
        ctx.moveTo(a.left, py);
        ctx.lineTo(a.left + 11, py);
        ctx.moveTo(a.right, py);
        ctx.lineTo(a.right - 11, py);
      }
      for (const v of s.yMinor) {
        const py = Math.round(Y.getPixelForValue(v)) + 0.5;
        ctx.moveTo(a.right, py);
        ctx.lineTo(a.right - 6, py);
        if (s.minorLeft) {
          ctx.moveTo(a.left, py);
          ctx.lineTo(a.left + 6, py);
        }
      }
      ctx.stroke();
      ctx.fillStyle = "#222";
      ctx.font = `${s.title.size}px ${FONT}`;
      ctx.textAlign = "center";
      ctx.textBaseline = "middle";
      ctx.fillText(TITLE_TEXT, s.title.x - s.box.x, s.title.y - s.box.y);
      ctx.restore();
    },
  };
}

function buildConfig(s: Spec, idx: number): any {
  const pad = {
    left: 0,
    top: s.plot.t - s.box.y,
    right: s.box.x + s.box.w - s.plot.r,
    bottom: 0,
  };
  const yW = s.plot.l - s.box.x;
  const xH = s.box.y + s.box.h - s.plot.b;
  const yTitleDist = s.yTitle.x - s.box.x;
  const xTitleDist = s.box.y + s.box.h - s.xTitle.y;
  return {
    type: "scatter",
    data: {
      datasets: [
        {
          data: s.points.map(([x, y]) => ({ x, y })),
          showLine: false,
          pointRadius: s.radius,
          pointBorderWidth: 1.2,
          pointBorderColor: s.color,
          pointBackgroundColor: "rgba(0,0,0,0)",
          borderColor: s.color,
          backgroundColor: "rgba(0,0,0,0)",
        },
        {
          data: s.trendYears.map((x, i) => ({ x, y: s.trendValues[i] })),
          showLine: true,
          pointRadius: 0,
          borderWidth: 1.2,
          borderColor: s.color,
          backgroundColor: "rgba(0,0,0,0)",
          cubicInterpolationMode: "monotone",
          fill: false,
        },
      ],
    },
    options: {
      responsive: false,
      animation: false,
      events: [],
      layout: { padding: pad },
      plugins: {
        legend: { display: false },
        tooltip: { enabled: false },
        title: { display: false },
      },
      scales: {
        x: {
          type: "linear",
          min: 1980,
          max: 2020,
          grid: { display: false, drawTicks: false, tickLength: 0 },
          border: { display: false },
          afterBuildTicks: (sc: any) => {
            sc.ticks = xTickYears.map((v) => ({ value: v }));
          },
          afterFit: (sc: any) => {
            sc.height = xH;
            sc.paddingLeft = 0;
            sc.paddingRight = 0;
          },
          ticks: {
            autoSkip: false,
            maxRotation: 0,
            minRotation: 0,
            padding: s.xTickPad,
            color: "#222",
            font: { family: FONT, size: s.tickSize },
            callback: (v: any) => String(v),
          },
          title: {
            display: true,
            text: "Year",
            color: "#222",
            font: { family: FONT, size: s.xTitle.size, lineHeight: (2 * xTitleDist) / s.xTitle.size },
            padding: 0,
          },
        },
        y: {
          type: s.yType,
          min: s.yMin,
          max: s.yMax,
          grid: { display: false, drawTicks: false, tickLength: 0 },
          border: { display: false },
          afterBuildTicks: (sc: any) => {
            sc.ticks = s.yLabels.map((v) => ({ value: v }));
          },
          afterFit: (sc: any) => {
            sc.width = yW;
            sc.paddingTop = 0;
            sc.paddingBottom = 0;
          },
          ticks: {
            autoSkip: false,
            padding: s.yTickPad,
            color: "#222",
            font: { family: FONT, size: s.tickSize },
            callback: (v: any) => s.yFormat(Number(v)),
          },
          title: {
            display: true,
            text: s.yTitle.text,
            color: "#222",
            font: { family: FONT, size: s.yTitle.size, lineHeight: (2 * yTitleDist) / s.yTitle.size },
            padding: 0,
          },
        },
      },
    },
    plugins: [framePlugin(s, idx)],
  };
}

function Panel({ spec, idx }: { spec: Spec; idx: number }) {
  const ref = useRef<HTMLCanvasElement>(null);
  useEffect(() => {
    if (!ref.current) return;
    const chart = new Chart(ref.current, buildConfig(spec, idx));
    return () => chart.destroy();
  }, [spec, idx]);
  return (
    <canvas
      ref={ref}
      width={spec.box.w}
      height={spec.box.h}
      style={{
        position: "absolute",
        left: spec.box.x,
        top: spec.box.y,
        width: spec.box.w,
        height: spec.box.h,
      }}
    />
  );
}

export default function App() {
  return (
    <div
      style={{
        position: "absolute",
        left: 0,
        top: 0,
        width: 1000,
        height: 1552,
        background: "#fff",
        overflow: "hidden",
      }}
    >
      {specs.map((s, i) => (
        <Panel key={i} spec={s} idx={i} />
      ))}
    </div>
  );
}
